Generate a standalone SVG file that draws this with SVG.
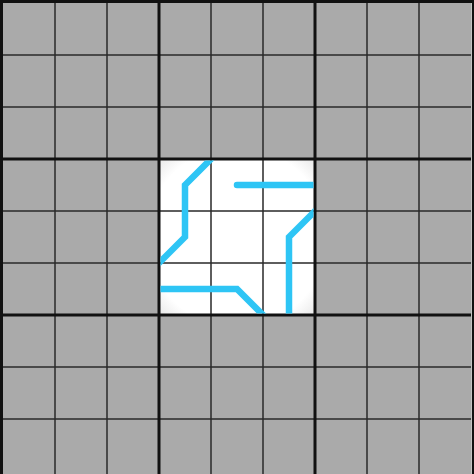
<svg xmlns="http://www.w3.org/2000/svg" width="474" height="474" viewBox="0 0 474 474">
<defs>
<style>
.thin{stroke:#2a2a2a;stroke-width:1.5;fill:none}
.thick{stroke:#111;stroke-width:3;fill:none}
.wire{stroke:#2ec5f5;stroke-width:6.5;fill:none;stroke-linecap:round;stroke-linejoin:miter}
</style>
<clipPath id="box"><rect x="160.5" y="160.5" width="153" height="153"/></clipPath>
<radialGradient id="glow" cx="0.5" cy="0.5" r="0.72">
<stop offset="0.8" stop-color="#ffffff"/>
<stop offset="1" stop-color="#e6e6e6"/>
</radialGradient>
</defs>
<rect x="0" y="0" width="474" height="474" fill="#aaaaaa"/>
<g id="center-box">
<rect x="159" y="159" width="156" height="156" fill="url(#glow)"/>
</g>
<g id="grid">
<path class="thin" d="M55 3V474M107 3V474M211 3V474M263 3V474M367 3V474M419 3V474M3 55H472M3 107H472M3 211H472M3 263H472M3 367H472M3 419H472"/>
<path class="thick" d="M1.5 0V474M159 3V474M315 3V474M0 1.5H474M3 159H472M3 315H472"/>
<path d="M471.5 3V474" stroke="#c4c4c4" stroke-width="1" fill="none"/>
<path d="M473 0V474" stroke="#111" stroke-width="2" fill="none"/>
</g>
<g id="connectors" clip-path="url(#box)">
<path class="wire" d="M215 155L185 185V237L155 267"/>
<path class="wire" d="M237 185H320"/>
<path class="wire" d="M319 207L289 237V320"/>
<path class="wire" d="M155 289H237L267 319"/>
</g>
</svg>
